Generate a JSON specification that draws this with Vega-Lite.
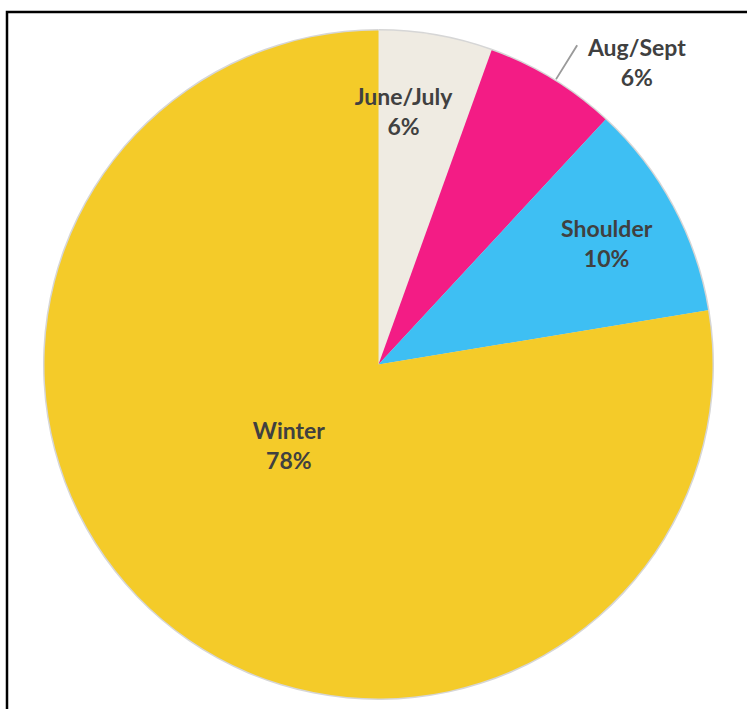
{
  "$schema": "https://vega.github.io/schema/vega-lite/v6.json",
  "autosize": {"type": "none"},
  "padding": {"left": 7, "top": 12, "right": -3, "bottom": -8},
  "width": 743,
  "height": 705,
  "background": "white",
  "view": {"stroke": "black", "strokeWidth": 2.5, "fill": "white"},
  "data": {
    "values": [
      {"season": "June/July", "share": 5.5, "ord": 1, "label": "June/July\n6%"},
      {"season": "Aug/Sept", "share": 6.4, "ord": 2, "label": "Aug/Sept\n6%"},
      {"season": "Shoulder", "share": 10.5, "ord": 3, "label": "Shoulder\n10%"},
      {"season": "Winter", "share": 77.6, "ord": 4, "label": "Winter\n78%"}
    ]
  },
  "encoding": {
    "theta": {"field": "share", "type": "quantitative", "stack": true},
    "order": {"field": "ord", "type": "quantitative"}
  },
  "layer": [
    {
      "mark": {"type": "arc", "radius": 335.5, "color": "#d6d6d6"}
    },
    {
      "mark": {"type": "arc", "radius": 334},
      "encoding": {
        "color": {
          "field": "season",
          "type": "nominal",
          "scale": {
            "domain": ["June/July", "Aug/Sept", "Shoulder", "Winter"],
            "range": ["#EFEBE2", "#F31C85", "#3EBFF3", "#F4CB29"]
          },
          "legend": null
        }
      }
    },
    {
      "data": {"values": [{"from": 8.82, "to": 8.9}]},
      "mark": {"type": "arc", "radius": 376, "radius2": 336, "color": "#9a9a9a"},
      "encoding": {
        "theta": {"field": "from", "type": "quantitative"},
        "theta2": {"field": "to"},
        "order": null
      }
    },
    {
      "mark": {"type": "text", "radius": 268, "dx": -21, "dy": -2, "font": "Lato", "fontWeight": "bold", "fontSize": 23, "lineHeight": 30, "lineBreak": "\n", "fill": "#404040"},
      "encoding": {"text": {"condition": {"test": "datum.season === 'June/July'", "field": "label"}, "value": ""}}
    },
    {
      "mark": {"type": "text", "radius": 395, "dx": 53, "dy": 22, "font": "Lato", "fontWeight": "bold", "fontSize": 23, "lineHeight": 30, "lineBreak": "\n", "fill": "#404040"},
      "encoding": {"text": {"condition": {"test": "datum.season === 'Aug/Sept'", "field": "label"}, "value": ""}}
    },
    {
      "mark": {"type": "text", "radius": 259, "dy": -12, "font": "Lato", "fontWeight": "bold", "fontSize": 23, "lineHeight": 30, "lineBreak": "\n", "fill": "#404040"},
      "encoding": {"text": {"condition": {"test": "datum.season === 'Shoulder'", "field": "label"}, "value": ""}}
    },
    {
      "mark": {"type": "text", "radius": 120, "dx": -12, "dy": -24, "font": "Lato", "fontWeight": "bold", "fontSize": 23, "lineHeight": 30, "lineBreak": "\n", "fill": "#404040"},
      "encoding": {"text": {"condition": {"test": "datum.season === 'Winter'", "field": "label"}, "value": ""}}
    }
  ]
}
